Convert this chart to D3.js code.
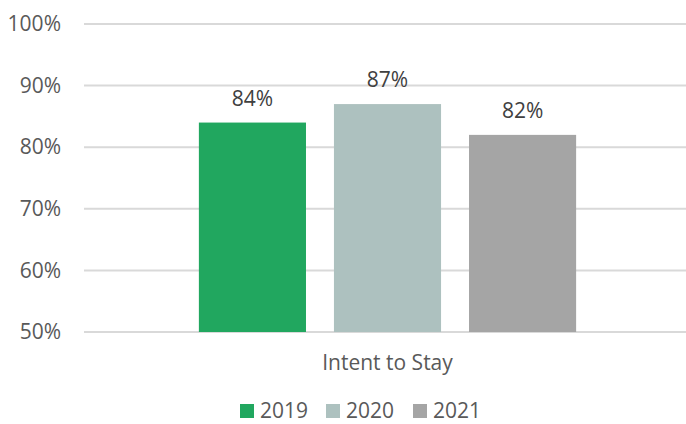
<!DOCTYPE html>
<html>
<head>
<meta charset="utf-8">
<script src="https://cdn.jsdelivr.net/npm/d3@7"></script>
<style>
  html, body { margin: 0; padding: 0; background: #fff; }
  svg { display: block; font-family: "Open Sans", sans-serif; }
</style>
</head>
<body>
<svg id="chart" width="686" height="424"></svg>
<script>
// Survey result: share of staff intending to stay, by year
const categories = ["Intent to Stay"];
const years = ["2019", "2020", "2021"];
const values2019 = [84];
const values2020 = [87];
const values2021 = [82];
const yTicks = [50, 60, 70, 80, 90, 100];
const colors = ["#21A75F", "#ADC1BF", "#A5A5A5"];

const seriesValues = [values2019, values2020, values2021];

const svg = d3.select("#chart");
const textColor = "#595959";

const plot = { left: 84, right: 691, top: 24, bottom: 332 };

const y = d3.scaleLinear().domain([50, 100]).range([plot.bottom, plot.top]);

const x0 = d3.scaleBand()
  .domain(categories)
  .range([plot.left, plot.right])
  .paddingInner(0)
  .paddingOuter(0.249);

const x1 = d3.scaleBand()
  .domain(years)
  .range([0, x0.bandwidth()])
  .paddingInner(0.207)
  .paddingOuter(0.1035);

// horizontal gridlines
svg.append("g")
  .selectAll("line")
  .data(yTicks)
  .join("line")
  .attr("x1", plot.left)
  .attr("x2", plot.right)
  .attr("y1", d => y(d))
  .attr("y2", d => y(d))
  .attr("stroke", "#D9D9D9")
  .attr("stroke-width", 2);

// y axis labels
const yAxis = d3.axisLeft(y)
  .tickValues(yTicks)
  .tickFormat(d => d + "%")
  .tickSize(0)
  .tickPadding(0);

const yG = svg.append("g")
  .attr("transform", `translate(61,0)`)
  .call(yAxis);
yG.select(".domain").remove();
yG.selectAll("text")
  .attr("fill", textColor)
  .attr("font-size", 21)
  .attr("font-family", "Open Sans, sans-serif");

// bars
const groups = svg.append("g")
  .selectAll("g")
  .data(categories)
  .join("g")
  .attr("transform", d => `translate(${x0(d)},0)`);

groups.each(function(cat, ci) {
  const g = d3.select(this);
  const rows = years.map((yr, si) => ({ year: yr, value: seriesValues[si][ci], color: colors[si] }));
  g.selectAll("rect")
    .data(rows)
    .join("rect")
    .attr("x", d => x1(d.year))
    .attr("y", d => y(d.value))
    .attr("width", x1.bandwidth())
    .attr("height", d => y(50) - y(d.value))
    .attr("fill", d => d.color);

  g.selectAll("text.value")
    .data(rows)
    .join("text")
    .attr("class", "value")
    .attr("x", d => x1(d.year) + x1.bandwidth() / 2)
    .attr("y", d => y(d.value) - 17)
    .attr("text-anchor", "middle")
    .attr("fill", "#404040")
    .attr("font-size", 21)
    .text(d => d.value + "%");
});

// category axis label
const xAxis = d3.axisBottom(x0).tickSize(0).tickPadding(0);
const xG = svg.append("g")
  .attr("transform", `translate(0,${plot.bottom})`)
  .call(xAxis);
xG.select(".domain").remove();
xG.selectAll("text")
  .attr("fill", textColor)
  .attr("font-size", 21)
  .attr("font-family", "Open Sans, sans-serif")
  .attr("dy", null)
  .attr("y", 38);

// legend
const legendX = [240, 326, 413];
const legend = svg.append("g")
  .selectAll("g")
  .data(years)
  .join("g")
  .attr("transform", (d, i) => `translate(${legendX[i]},404)`);
legend.append("rect")
  .attr("width", 14)
  .attr("height", 14)
  .attr("fill", (d, i) => colors[i]);
legend.append("text")
  .attr("x", 20)
  .attr("y", 14)
  .attr("fill", textColor)
  .attr("font-size", 21)
  .text(d => d);
</script>
</body>
</html>
